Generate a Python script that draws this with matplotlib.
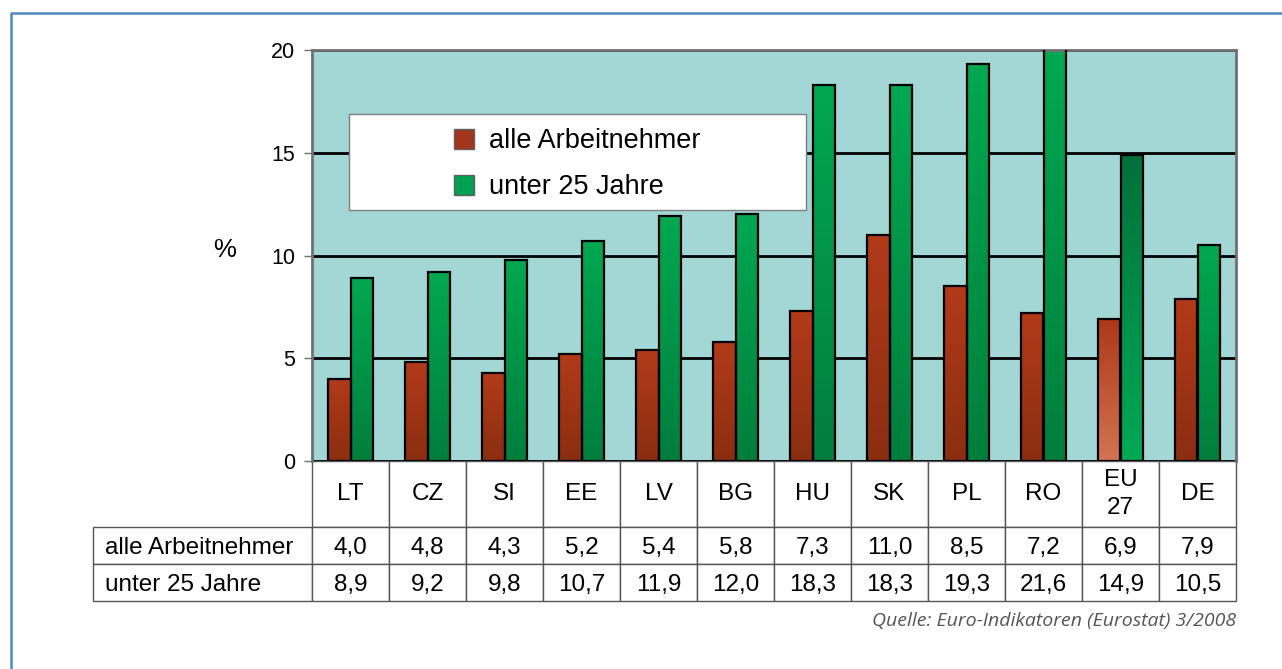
"""Jugendarbeitslosigkeit: Balken mit Tabelle darunter."""
import numpy as np
import matplotlib
matplotlib.use("Agg")
import matplotlib.pyplot as plt
from matplotlib.colors import LinearSegmentedColormap
from matplotlib.patches import Rectangle, Patch
from matplotlib.lines import Line2D
from matplotlib.table import Table

plt.rcParams['font.family'] = ['Liberation Sans', 'DejaVu Sans']

# data
countries = ['LT', 'CZ', 'SI', 'EE', 'LV', 'BG', 'HU', 'SK', 'PL', 'RO', 'EU\n27', 'DE']
alle = [4.0, 4.8, 4.3, 5.2, 5.4, 5.8, 7.3, 11.0, 8.5, 7.2, 6.9, 7.9]
unter25 = [8.9, 9.2, 9.8, 10.7, 11.9, 12.0, 18.3, 18.3, 19.3, 21.6, 14.9, 10.5]
series_names = ['alle Arbeitnehmer', 'unter 25 Jahre']
yticks = [0, 5, 10, 15, 20]
source = 'Quelle: Euro-Indikatoren (Eurostat) 3/2008'
highlight = 'EU\n27'

# colours (top, bottom)
red_grad = ('#b23a19', '#8a2e10')
green_grad = ('#00a851', '#007e3c')
red_grad_eu = ('#ad3818', '#d27452')
green_grad_eu = ('#00703a', '#00aa55')
bg = '#a2d7d6'

fig = plt.figure(figsize=(12.82, 6.69), dpi=100)
W, H = 1282, 669
ax = fig.add_axes([312 / W, 1 - 461 / H, 924 / W, 411 / H])
ax.set_facecolor(bg)

x = np.arange(len(countries))
bw = 0.286
bars_a = ax.bar(x - bw / 2, alle, bw, facecolor='none', edgecolor='black', lw=1.6, zorder=3)
bars_u = ax.bar(x + bw / 2, unter25, bw, facecolor='none', edgecolor='black', lw=1.6, zorder=3)

ax.set_xlim(-0.5, len(countries) - 0.5)
ax.set_ylim(0, 20)
ymax = ax.get_ylim()[1]


def fill_gradient(bar, top, bottom):
    cmap = LinearSegmentedColormap.from_list('g', [bottom, top])
    grad = np.linspace(0, 1, 256).reshape(-1, 1)
    x0, w, h = bar.get_x(), bar.get_width(), min(bar.get_height(), ymax)
    im = ax.imshow(grad, cmap=cmap, origin='lower', aspect='auto',
                   extent=(x0, x0 + w, 0, h), zorder=2.5)
    im.set_clip_path(bar)


for i, c in enumerate(countries):
    if c == highlight:
        fill_gradient(bars_a[i], *red_grad_eu)
        fill_gradient(bars_u[i], *green_grad_eu)
    else:
        fill_gradient(bars_a[i], *red_grad)
        fill_gradient(bars_u[i], *green_grad)

ax.set_xlim(-0.5, len(countries) - 0.5)
ax.set_ylim(0, ymax)
ax.set_yticks(yticks)
ax.set_xticks([])
ax.tick_params(axis='y', direction='out', length=6, width=1, color='#707070',
               labelsize=15.5, pad=6)
ax.yaxis.grid(True, color='black', lw=2)
ax.set_axisbelow(True)
for s in ['left', 'top', 'right']:
    ax.spines[s].set_color('#707070')
    ax.spines[s].set_linewidth(2)
ax.spines['bottom'].set_visible(False)
ax.text(-0.082, 0.513, '%', transform=ax.transAxes, fontsize=18.5, ha='right', va='center')

# legend: white box, entries centered in it
box = [37 / 924, (461 - 210) / 411, 457 / 924, 96 / 411]
ax.add_patch(Rectangle((box[0], box[1]), box[2], box[3], transform=ax.transAxes,
                       facecolor='white', edgecolor='#808080', lw=1, zorder=4))
handles = [Patch(facecolor='#a3361a', edgecolor='#606060'),
           Patch(facecolor='#00a050', edgecolor='#606060')]
leg = ax.legend(handles, series_names, loc='center', bbox_to_anchor=(box[0], box[1] - 0.006, box[2], box[3]),
                frameon=False, fontsize=19.5, handlelength=0.75, handleheight=0.75,
                handletextpad=0.55, labelspacing=0.74)
leg.set_zorder(5)

# table below the axes
tbl = Table(ax, bbox=[-219 / 924, -140 / 411, 1143 / 924, 140 / 411])
row_h = [66, 37, 37]
for j, c in enumerate(countries):
    tbl.add_cell(0, j + 1, width=77, height=row_h[0], text=c, loc='center')
for r, (name, vals) in enumerate(zip(series_names, [alle, unter25]), start=1):
    cell = tbl.add_cell(r, 0, width=219, height=row_h[r], text=name, loc='left')
    cell.PAD = 0.055
    for j, v in enumerate(vals):
        tbl.add_cell(r, j + 1, width=77, height=row_h[r],
                     text=f'{v:.1f}'.replace('.', ','), loc='center')
tbl.auto_set_font_size(False)
tbl.set_fontsize(17.5)
for (r, c), cell in tbl.get_celld().items():
    cell.set_edgecolor('#555555')
    cell.set_linewidth(1)
    cell.get_text().set_linespacing(1.35)
    if r > 0:
        cell.get_text().set_va('center_baseline')
ax.add_table(tbl)

fig.text(1236 / W, 1 - 621 / H, source, ha='right', va='center', fontsize=14,
         style='italic', color='#555555', family=['Open Sans', 'DejaVu Sans'])

# outer frame
fig.add_artist(Line2D([11 / W, 11 / W, 1], [0, 1 - 13 / H, 1 - 13 / H],
                      color='#4f88c0', lw=1.8))

fig.savefig('out.png', dpi=100)
